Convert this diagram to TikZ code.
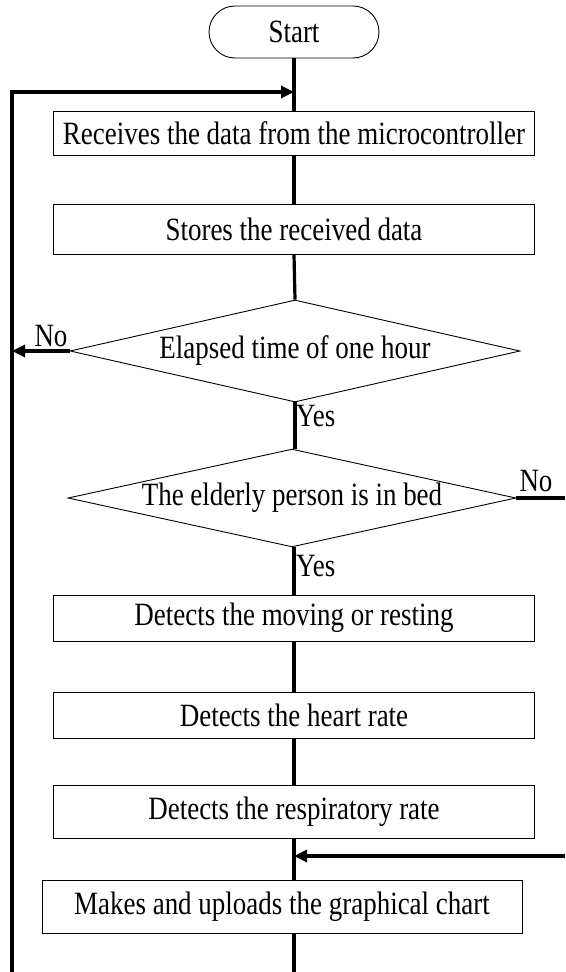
\documentclass[tikz,border=0pt]{standalone}
\usepackage{fontspec}
\newfontfamily\diagfont[FakeStretch=0.83]{Liberation Serif}
\usetikzlibrary{shapes.geometric,arrows.meta}
\begin{document}
\begin{tikzpicture}[x=1pt,y=-1pt,
  every node/.style={font=\diagfont\fontsize{32.5}{36}\selectfont, inner sep=0pt},
  box/.style={draw, line width=0.9pt, minimum width=481pt},
  dec/.style={draw, line width=0.9pt, diamond, aspect=4.4},
  term/.style={draw, line width=0.9pt, rectangle, rounded corners=26pt, minimum width=170pt, minimum height=52pt},
  conn/.style={line width=3.2pt},
  arr/.style={line width=3.2pt, -{Triangle[length=13pt,width=12pt]}},
  lbl/.style={}]
\useasboundingbox (0,0) rectangle (565,972);

\node[term] (start) at (294,32) {Start};
\node[box, minimum height=44pt] (b1) at (294,133) {Receives the data from the microcontroller};
\node[box, minimum height=50pt] (b2) at (294,229) {Stores the received data};
\node[dec, minimum width=450pt, minimum height=102pt] (d1) at (295,351) {Elapsed time of one hour};
\node[dec, minimum width=448pt, minimum height=92pt] (d2) at (292,498) {The elderly person is in bed};
\node[box, minimum height=46pt] (b3) at (294,618) {Detects the moving or resting};
\node[box, minimum height=46pt] (b4) at (294,715) {Detects the heart rate};
\node[box, minimum height=53pt] (b5) at (294,811.5) {Detects the respiratory rate};
\node[box, minimum width=480pt, minimum height=53pt] (b6) at (282,906.5) {Makes and uploads the graphical chart};

\coordinate (lb) at (12,972);
\coordinate (lt) at (12,92);
\coordinate (mt) at (294,92);
\coordinate (mb) at (294,972);
\coordinate (ra) at (565,498);
\coordinate (rb) at (565,856);
\coordinate (rm) at (294,856);

% main flow
\draw[conn] (start.south) -- (b1.north);
\draw[conn] (b1.south) -- (b2.north);
\draw[conn] (b2.south) -- (d1.north);
\draw[conn] (d1.south) -- (d2.north -| d1.south);
\draw[conn] (d2.south -| b3.north) -- (b3.north);
\draw[conn] (b3.south) -- (b4.north);
\draw[conn] (b4.south) -- (b5.north);
\draw[conn] (b5.south) -- (b5.south |- b6.north);
\draw[conn] (b5.south |- b6.south) -- (mb);

% loop back
\draw[arr] (lb) -- (lt) -- (mt);
\draw[arr] (d1.west) -- (d1.west -| lb);
\draw[conn] (d2.east) -- (ra);
\draw[arr] (rb) -- (rm);

% labels
\node[lbl] (no1) at (51,336) {No};
\node[lbl, anchor=west] (yes1) at (296,416) {Yes};
\node[lbl] (no2) at (536,481) {No};
\node[lbl, anchor=west] (yes2) at (296,566) {Yes};
\end{tikzpicture}
\end{document}
